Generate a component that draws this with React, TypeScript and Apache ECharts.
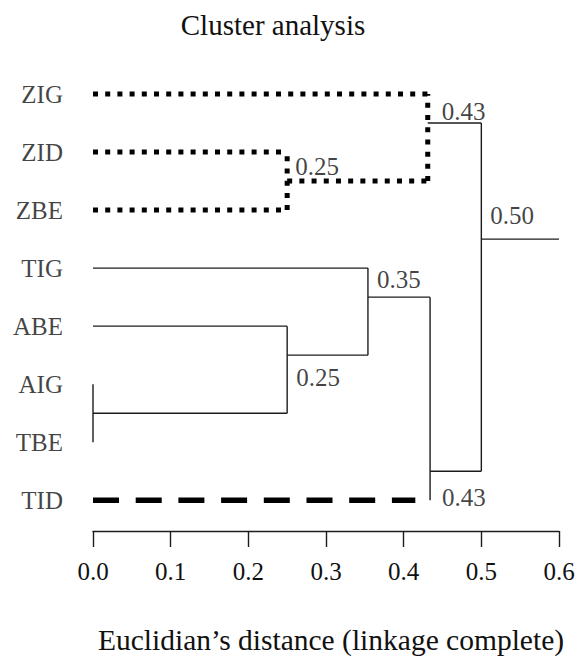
import React, { useEffect, useRef } from 'react';
import * as echarts from 'echarts';

// ---------- data ----------
// leaves listed bottom -> top; the leaf's slot index is its vertical position
const leafNames = ['TID', 'TBE', 'AIG', 'ABE', 'TIG', 'ZBE', 'ZID', 'ZIG'];
// internal nodes of the dendrogram
const nodeIds = ['A', 'B', 'C', 'D', 'E', 'F', 'G'];
const nodeHeights = [0, 0.25, 0.354, 0.434, 0.25, 0.431, 0.5];
const nodeChildren = [
  ['AIG', 'TBE'],
  ['ABE', 'A'],
  ['TIG', 'B'],
  ['C', 'TID'],
  ['ZID', 'ZBE'],
  ['ZIG', 'E'],
  ['F', 'D'],
];
// slot position where each node's branch leaves towards its parent
const nodeJoinSlot = [1.5, 2.5, 3.5, 0.5, 5.5, 6.5, 4.5];
// nodes whose merge distance is printed
const labelledNodes = ['E', 'F', 'G', 'C', 'B', 'D'];
const tidBranchEnd = 0.415;
const rootStemEnd = 0.6;
const xMin = 0;
const xMax = 0.6;
const xStep = 0.1;

const titleText = 'Cluster analysis';
const axisTitle = 'Euclidian\u2019s distance (linkage complete)';

// ---------- styles ----------
const FONT = '"Liberation Serif", "Times New Roman", serif';
const INK = '#111';
const SOLID = { color: '#1c1c1c', width: 1.4, type: 'solid' as any };
const DOTTED = { color: '#000', width: 5, type: [5, 7.2] as any };
const DASHED = { color: '#000', width: 5.5, type: [26, 16.7] as any };
const branchStyle: Record<string, any> = { ZIG: DOTTED, ZID: DOTTED, ZBE: DOTTED, E: DOTTED, TID: DASHED };
const verticalStyle: Record<string, any> = { E: DOTTED, F: DOTTED };
const labelOffset: Record<string, [number, number]> = {
  E: [8, -15],
  F: [14, -11.5],
  G: [9, -24],
  C: [9, -18],
  B: [9, 22],
  D: [12, 26.5],
};

function buildOption() {
  const isLeaf = (id: string) => leafNames.indexOf(id) >= 0;
  const slotOf = (id: string) => (isLeaf(id) ? leafNames.indexOf(id) : nodeJoinSlot[nodeIds.indexOf(id)]);
  const xOf = (id: string) => (isLeaf(id) ? 0 : nodeHeights[nodeIds.indexOf(id)]);

  const segments: { pts: number[][]; style: any }[] = [];
  nodeIds.forEach((id, k) => {
    const h = nodeHeights[k];
    const ys = nodeChildren[k].map(slotOf);
    segments.push({ pts: [[h, Math.min(...ys)], [h, Math.max(...ys)]], style: verticalStyle[id] || SOLID });
    nodeChildren[k].forEach((c) => {
      const end = c === 'TID' ? tidBranchEnd : h;
      const x0 = xOf(c);
      if (end > x0) segments.push({ pts: [[x0, slotOf(c)], [end, slotOf(c)]], style: branchStyle[c] || SOLID });
    });
  });
  const rootIdx = nodeIds.length - 1;
  segments.push({
    pts: [[nodeHeights[rootIdx], nodeJoinSlot[rootIdx]], [rootStemEnd, nodeJoinSlot[rootIdx]]],
    style: SOLID,
  });

  const lineSeries = segments.map((s) => ({
    type: 'line',
    data: s.pts,
    showSymbol: false,
    symbol: 'none',
    clip: false,
    silent: true,
    lineStyle: { ...s.style, cap: 'butt' },
    z: s.style === SOLID ? 2 : 3,
  }));

  const leafLabelSeries = {
    type: 'scatter',
    symbolSize: 0,
    silent: true,
    clip: false,
    data: leafNames.map((n, i) => ({ value: [0, i], name: n })),
    label: {
      show: true,
      position: 'left',
      distance: 30,
      formatter: '{b}',
      fontFamily: FONT,
      fontSize: 25,
      color: INK,
    },
  };

  const mergeLabelSeries = {
    type: 'scatter',
    symbolSize: 0,
    silent: true,
    clip: false,
    data: labelledNodes.map((id) => {
      const k = nodeIds.indexOf(id);
      return {
        value: [nodeHeights[k], nodeJoinSlot[k]],
        name: nodeHeights[k].toFixed(2),
        label: { position: labelOffset[id] },
      };
    }),
    label: {
      show: true,
      formatter: '{b}',
      align: 'left',
      verticalAlign: 'middle',
      fontFamily: FONT,
      fontSize: 25,
      color: INK,
    },
  };

  return {
    animation: false,
    backgroundColor: '#fff',
    grid: { left: 93, right: 24, top: 65, bottom: 125, containLabel: false, outerBoundsMode: 'none' },
    xAxis: {
      type: 'value',
      min: xMin,
      max: xMax,
      interval: xStep,
      splitLine: { show: false },
      axisLine: { show: true, onZero: false, lineStyle: { color: '#1c1c1c', width: 1.4 } },
      axisTick: { show: true, length: 16, lineStyle: { color: '#1c1c1c', width: 1.4 } },
      axisLabel: {
        margin: 28,
        fontFamily: FONT,
        fontSize: 25,
        color: INK,
        formatter: (v: number) => v.toFixed(1),
      },
    },
    yAxis: { type: 'value', min: -0.53, max: 7.5, show: false },
    graphic: [
      {
        type: 'text',
        x: 273,
        y: 25,
        silent: true,
        style: { text: titleText, fontFamily: FONT, fontSize: 29, fill: INK, align: 'center', verticalAlign: 'middle' },
      },
      {
        type: 'text',
        x: 331,
        y: 640,
        silent: true,
        style: { text: axisTitle, fontFamily: FONT, fontSize: 29.5, fill: INK, align: 'center', verticalAlign: 'middle' },
      },
    ],
    series: [...lineSeries, leafLabelSeries, mergeLabelSeries],
  };
}

export default function App() {
  const ref = useRef<HTMLDivElement>(null);
  useEffect(() => {
    if (!ref.current) return;
    const chart = echarts.init(ref.current, undefined, { renderer: 'svg' });
    chart.setOption(buildOption() as any);
    return () => chart.dispose();
  }, []);
  return <div ref={ref} style={{ position: 'absolute', left: 0, top: 0, width: 583, height: 656, background: '#fff' }} />;
}
